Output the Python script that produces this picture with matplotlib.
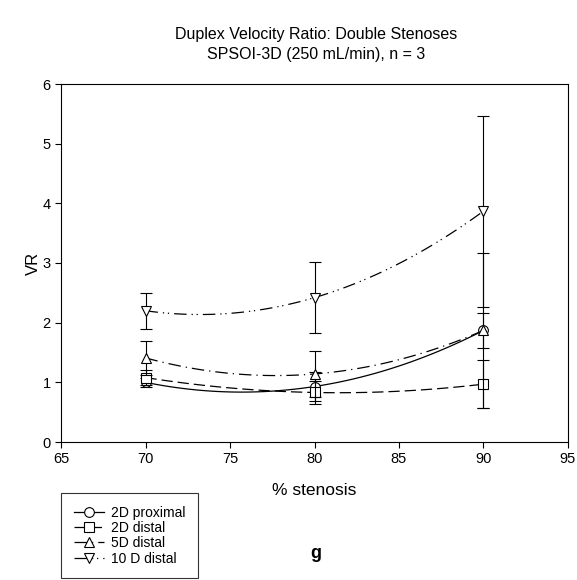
import numpy as np
import matplotlib
matplotlib.use("Agg")
import matplotlib.pyplot as plt
from matplotlib.lines import Line2D

plt.rcParams['font.family'] = ['Liberation Sans', 'DejaVu Sans']

x = [70, 80, 90]
labels = ["2D proximal", "2D distal", "5D distal", "10 D distal"]
vr_2d_prox = [1.00, 0.93, 1.87]
err_2d_prox = [0.08, 0.25, 0.30]
vr_2d_dist = [1.08, 0.83, 0.97]
err_2d_dist = [0.12, 0.20, 0.40]
vr_5d_dist = [1.41, 1.14, 1.87]
err_5d_dist = [0.28, 0.38, 1.30]
vr_10d_dist = [2.20, 2.42, 3.87]
err_10d_dist = [0.30, 0.60, 1.60]

series = [vr_2d_prox, vr_2d_dist, vr_5d_dist, vr_10d_dist]
errs = [err_2d_prox, err_2d_dist, err_5d_dist, err_10d_dist]
markers = ['o', 's', '^', 'v']
styles = ['-', (0, (9, 4)), (0, (10, 4, 1, 4)), (0, (10, 4, 1, 3, 1, 4))]

fig = plt.figure(figsize=(5.77, 5.8), dpi=100)
ax = fig.add_axes([61/577, 1-442/580, (568-61)/577, (442-84)/580])

for y, e, m, ls, lab in zip(series, errs, markers, styles, labels):
    c = np.polyfit(x, y, 2)
    xs = np.linspace(70, 90, 100)
    ax.plot(xs, np.polyval(c, xs), color='black', lw=0.9, linestyle=ls)
    ax.errorbar(x, y, yerr=e, fmt='none', ecolor='black', elinewidth=0.8,
                capsize=4, capthick=0.8)
    ax.plot(x, y, linestyle='none', marker=m, markersize=7,
            markerfacecolor='white', markeredgecolor='black', markeredgewidth=0.8)

ax.set_xlim(65, 95)
ax.set_ylim(0, 6)
ax.set_xticks([65, 70, 75, 80, 85, 90, 95])
ax.set_yticks([0, 1, 2, 3, 4, 5, 6])
ax.tick_params(direction='out', length=4, width=0.8, labelsize=10.5)
for s in ax.spines.values():
    s.set_linewidth(0.8)
ax.set_xlabel('% stenosis', fontsize=12.5, labelpad=12)
ax.set_ylabel('VR', fontsize=12, labelpad=1)

fig.text(316/577, 1-35/580, 'Duplex Velocity Ratio: Double Stenoses', ha='center', va='center', fontsize=11.5)
fig.text(316/577, 1-55/580, 'SPSOI-3D (250 mL/min), n = 3', ha='center', va='center', fontsize=11.5)
fig.text(316/577, 1-553/580, 'g', ha='center', va='center', fontsize=13, fontweight='bold')

handles = [Line2D([0], [0], color='black', lw=0.9, linestyle=ls, marker=m, markersize=7,
                  markerfacecolor='white', markeredgecolor='black', markeredgewidth=0.8)
           for m, ls in zip(markers, styles)]
leg = fig.legend(handles, labels, loc='upper left', bbox_to_anchor=(61/577, 1-493/580),
                 fontsize=10, frameon=True, fancybox=False, edgecolor='black',
                 handlelength=2.2, borderpad=0.9, labelspacing=0.1, handletextpad=0.5,
                 borderaxespad=0)
leg.get_frame().set_linewidth(0.8)

fig.savefig('out.png', dpi=100)
